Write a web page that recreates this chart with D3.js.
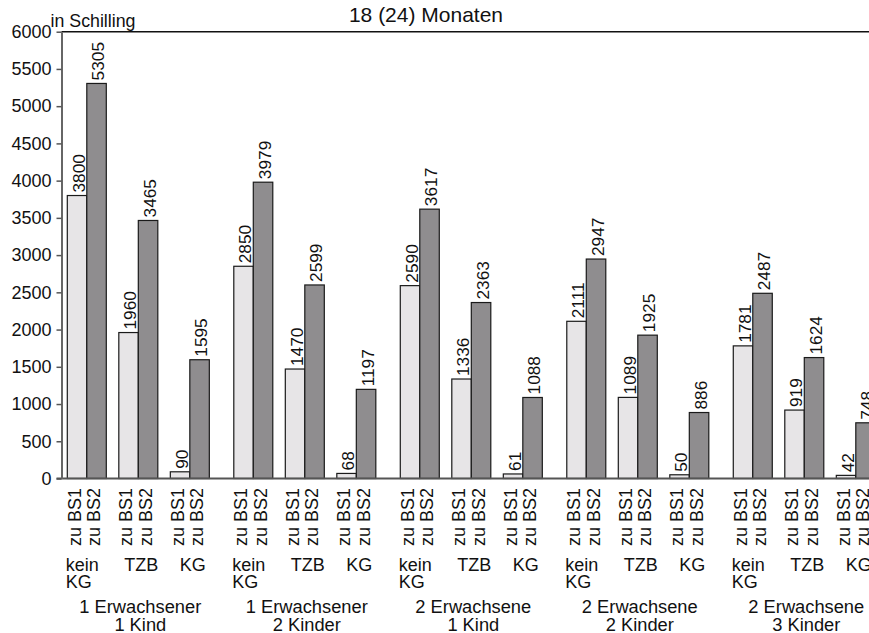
<!DOCTYPE html>
<html>
<head>
<meta charset="utf-8">
<script src="https://cdn.jsdelivr.net/npm/d3@7/dist/d3.min.js"></script>
<style>
  html, body { margin: 0; padding: 0; background: #fff; }
  svg { display: block; }
  text { font-family: "Liberation Sans", Arial, sans-serif; fill: #111; }
</style>
</head>
<body>
<svg id="chart" width="869" height="633"></svg>
<script>
// ---- data ----
const groups = ["1 Erwachsener|1 Kind", "1 Erwachsener|2 Kinder", "2 Erwachsene|1 Kind", "2 Erwachsene|2 Kinder", "2 Erwachsene|3 Kinder"];
const subcats = ["kein KG", "TZB", "KG"];
const seriesNames = ["zu BS1", "zu BS2"];
const bs1 = [3800, 1960, 90, 2850, 1470, 68, 2590, 1336, 61, 2111, 1089, 50, 1781, 919, 42];
const bs2 = [5305, 3465, 1595, 3979, 2599, 1197, 3617, 2363, 1088, 2947, 1925, 886, 2487, 1624, 748];
const yTicks = [0, 500, 1000, 1500, 2000, 2500, 3000, 3500, 4000, 4500, 5000, 5500, 6000];
const title = "18 (24) Monaten";
const unitLabel = "in Schilling";

// ---- layout ----
const W = 869, H = 633;
const svg = d3.select("#chart");
const axisX = 61.5;
const y = d3.scaleLinear().domain([0, 6000]).range([478.5, 31.7]);
const xg = d3.scaleBand().domain(groups).range([67.3, 875.3]).paddingInner(0.147).paddingOuter(0);
const xs = d3.scaleBand().domain(subcats).range([0, xg.bandwidth()]).paddingInner(0.243).paddingOuter(0);
const xb = d3.scaleBand().domain(seriesNames).range([0, xs.bandwidth()]).padding(0);
const fills = { "zu BS1": "#e7e5e7", "zu BS2": "#8f8d8f" };

const records = [];
groups.forEach((g, gi) => {
  subcats.forEach((s, si) => {
    const idx = gi * subcats.length + si;
    records.push({ g, s, series: "zu BS1", v: bs1[idx] });
    records.push({ g, s, series: "zu BS2", v: bs2[idx] });
  });
});
const bx = d => xg(d.g) + xs(d.s) + xb(d.series);

// top frame line
svg.append("line")
  .attr("x1", axisX).attr("x2", W)
  .attr("y1", y(6000)).attr("y2", y(6000))
  .attr("stroke", "#111").attr("stroke-width", 1.6);

// bars
svg.append("g").selectAll("rect").data(records).join("rect")
  .attr("x", bx)
  .attr("y", d => y(d.v))
  .attr("width", xb.bandwidth())
  .attr("height", d => y(0) - y(d.v))
  .attr("fill", d => fills[d.series])
  .attr("stroke", "#1a1a1a")
  .attr("stroke-width", 1.2);

// value labels
svg.append("g").selectAll("text").data(records).join("text")
  .attr("transform", d => `translate(${bx(d) + xb.bandwidth() / 2 + 1.5},${y(d.v) - 3}) rotate(-90)`)
  .attr("dy", "0.35em")
  .attr("text-anchor", "start")
  .attr("font-size", 17.3)
  .text(d => d.v);

// baseline
svg.append("line")
  .attr("x1", 56.5).attr("x2", W)
  .attr("y1", y(0)).attr("y2", y(0))
  .attr("stroke", "#555").attr("stroke-width", 2);

// y axis
const yAxis = svg.append("g")
  .attr("transform", `translate(${axisX},0)`)
  .call(d3.axisLeft(y).tickValues(yTicks).tickFormat(d3.format("d")).tickSize(5).tickSizeOuter(0).tickPadding(5));
yAxis.select(".domain").attr("stroke", "#666").attr("stroke-width", 2);
yAxis.selectAll(".tick line").attr("stroke", "#555").attr("stroke-width", 1.5);
yAxis.selectAll(".tick text")
  .attr("font-family", "'Liberation Sans', Arial, sans-serif")
  .attr("font-size", 18).attr("fill", "#111");

// series labels under bars
svg.append("g").selectAll("text").data(records).join("text")
  .attr("transform", d => `translate(${bx(d) + xb.bandwidth() / 2 - 2.5},488) rotate(-90)`)
  .attr("dy", "0.35em")
  .attr("text-anchor", "end")
  .attr("font-size", 18)
  .text(d => d.series);

// subcategory labels
const subRecs = [];
groups.forEach(g => subcats.forEach(s => subRecs.push({ g, s })));
const subG = svg.append("g");
subRecs.forEach(d => {
  const x0 = xg(d.g) + xs(d.s);
  if (d.s === "kein KG") {
    const parts = d.s.split(" ");
    subG.append("text").attr("font-size", 18).attr("text-anchor", "start")
      .attr("x", x0 - 1.5).attr("y", 570.7).text(parts[0]);
    subG.append("text").attr("font-size", 18).attr("text-anchor", "start")
      .attr("x", x0 - 1.5).attr("y", 588).text(parts[1]);
  } else {
    subG.append("text").attr("font-size", 18).attr("text-anchor", "middle")
      .attr("x", x0 + xs.bandwidth() / 2 + 3).attr("y", 570.7).text(d.s);
  }
});

// group labels
const gl = svg.append("g");
groups.forEach(g => {
  const cx = xg(g) + xg.bandwidth() / 2 + 2;
  const parts = g.split("|");
  gl.append("text").attr("font-size", 18.3).attr("text-anchor", "middle")
    .attr("x", cx).attr("y", 613.3).text(parts[0]);
  gl.append("text").attr("font-size", 18.3).attr("text-anchor", "middle")
    .attr("x", cx).attr("y", 630.5).text(parts[1]);
});

// title & unit
svg.append("text").attr("x", 426).attr("y", 22).attr("text-anchor", "middle")
  .attr("font-size", 21).text(title);
svg.append("text").attr("x", 50.5).attr("y", 26.5).attr("text-anchor", "start")
  .attr("font-size", 17.8).text(unitLabel);
</script>
</body>
</html>
